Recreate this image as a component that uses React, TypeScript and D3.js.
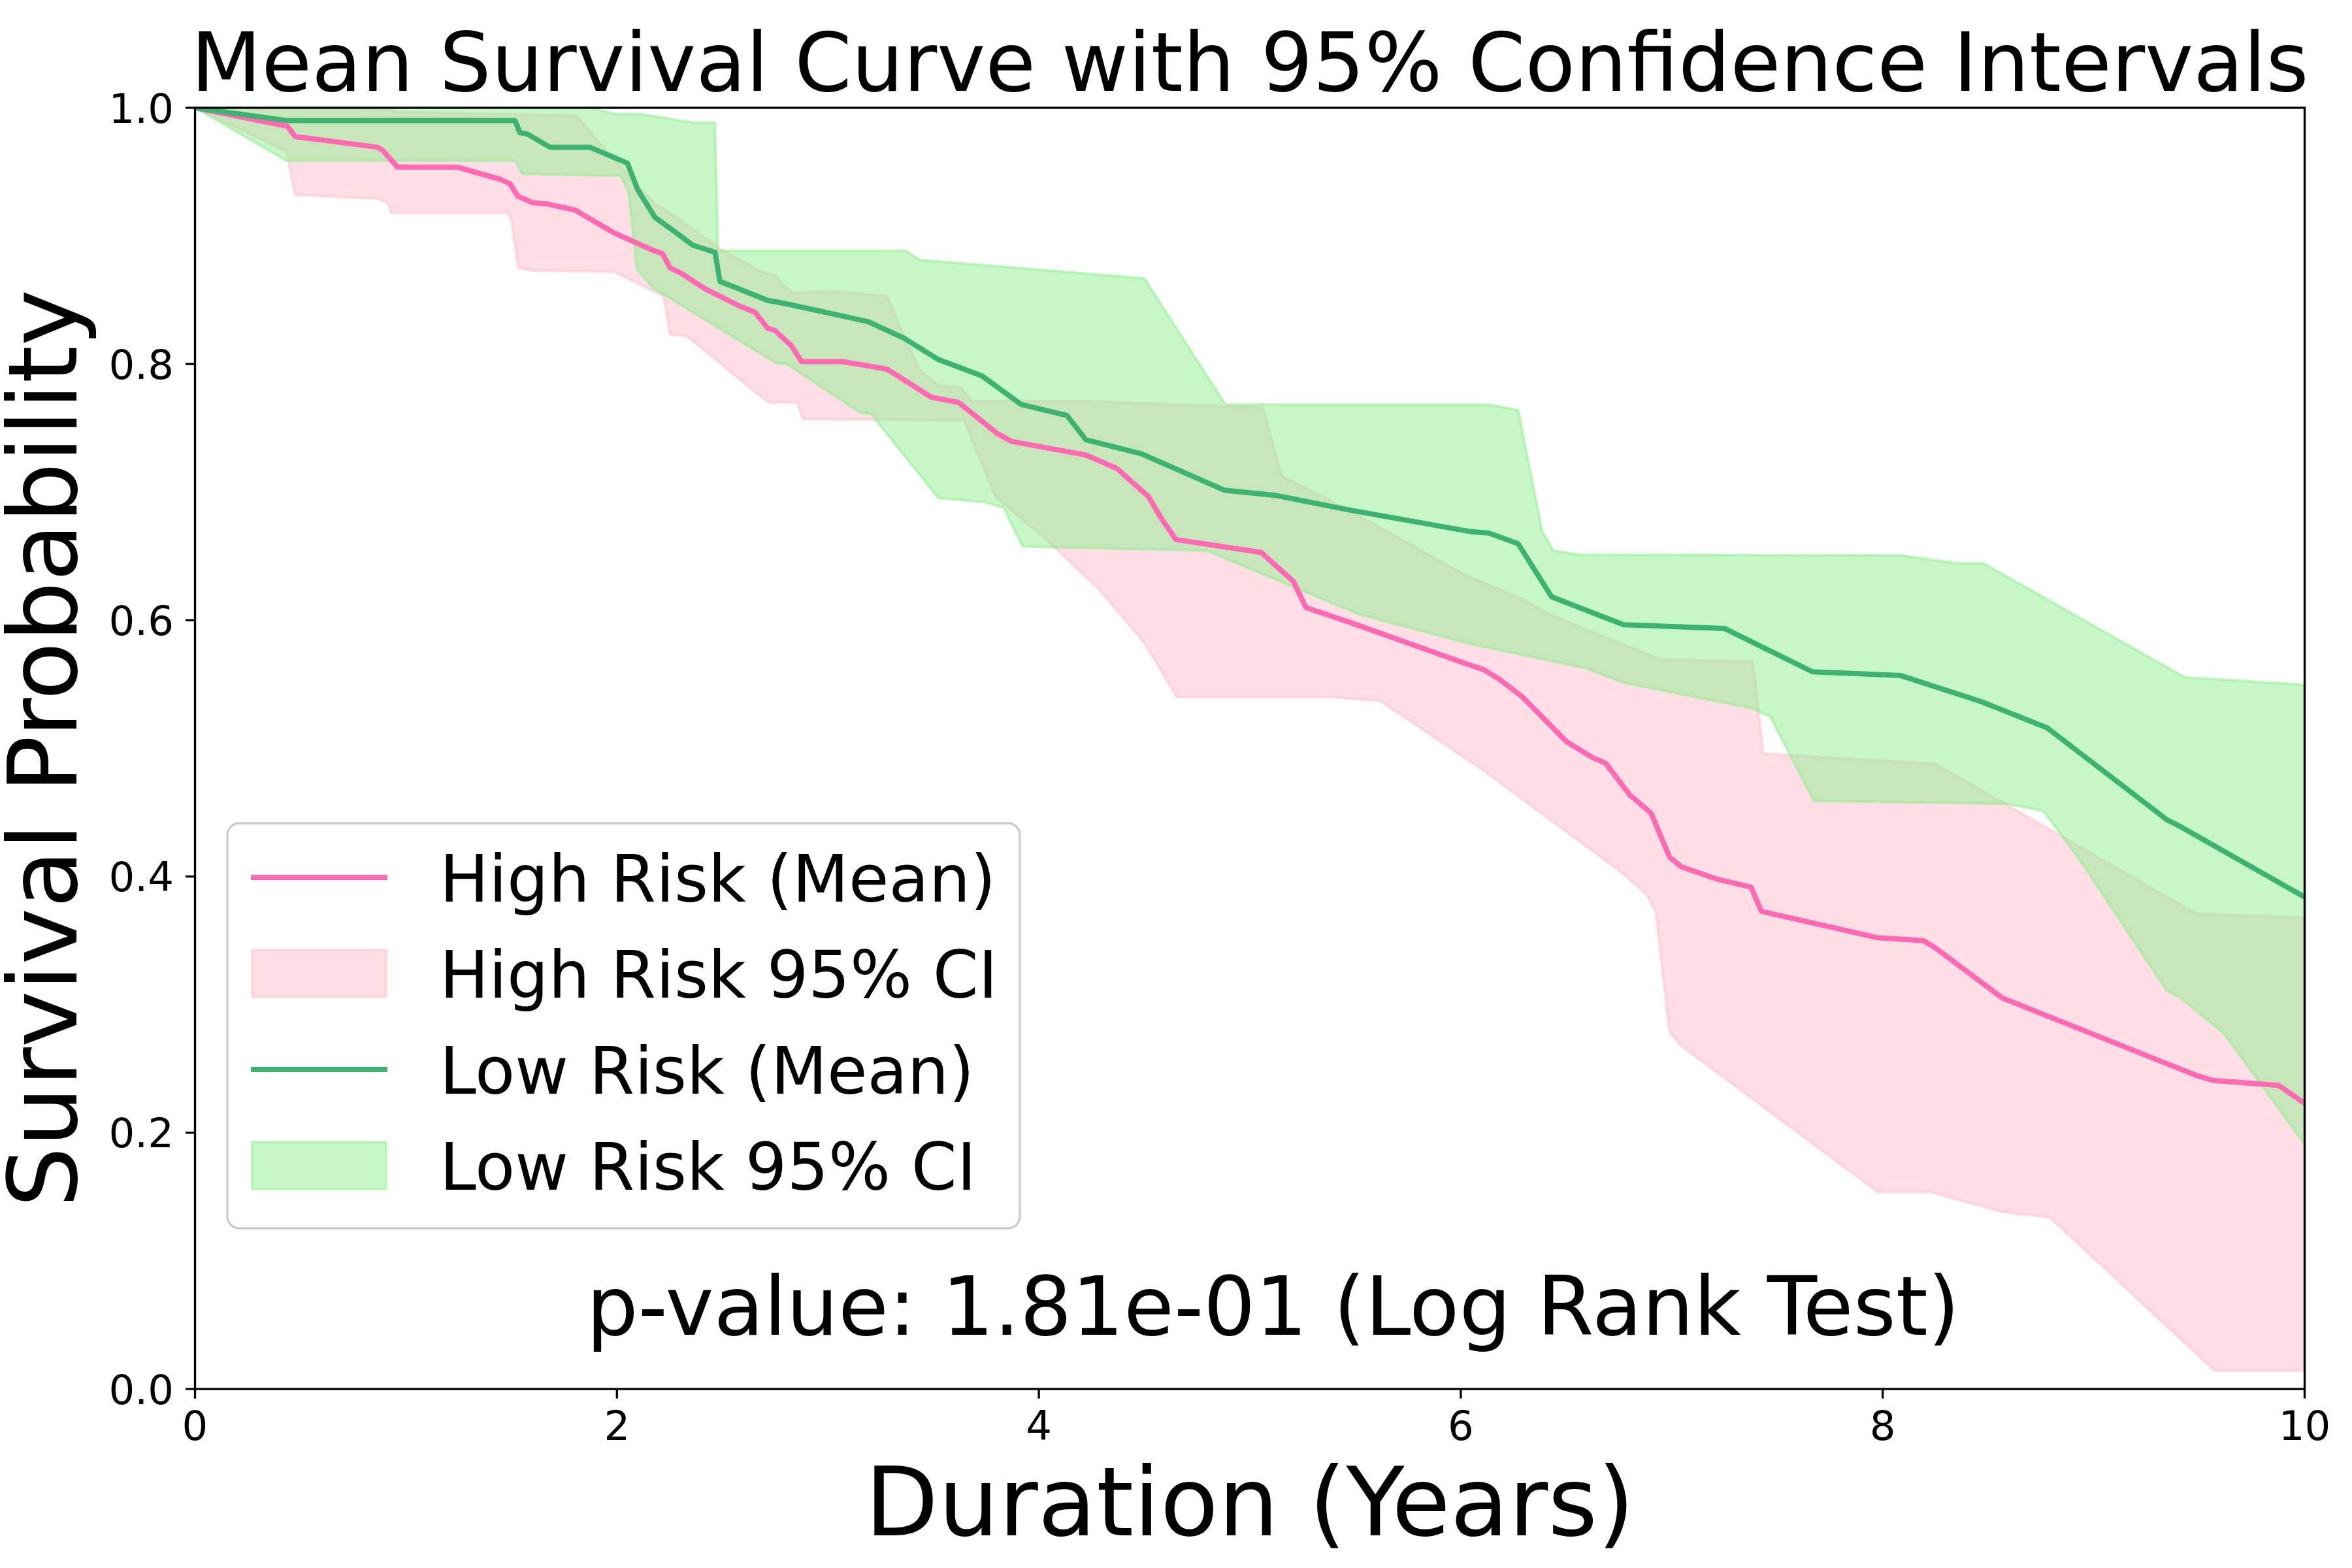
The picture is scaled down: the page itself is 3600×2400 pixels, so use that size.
import * as d3 from 'd3';

// Curves: [years, survival probability]
const highMean: [number, number][] = [
  [0, 1.0], [0.438, 0.9856], [0.474, 0.9776], [0.865, 0.9692], [0.889, 0.9669], [0.96, 0.9537],
  [1.244, 0.9537], [1.446, 0.9442], [1.493, 0.9408], [1.529, 0.9312], [1.6, 0.9259], [1.659, 0.9252],
  [1.801, 0.9202], [1.991, 0.902], [2.169, 0.8889], [2.216, 0.8861], [2.251, 0.8752], [2.311, 0.8702],
  [2.417, 0.8588], [2.583, 0.8451], [2.654, 0.8405], [2.714, 0.828], [2.749, 0.8262], [2.827, 0.8143],
  [2.875, 0.8019], [3.07, 0.8019], [3.281, 0.796], [3.491, 0.774], [3.62, 0.77], [3.805, 0.7455],
  [3.871, 0.7396], [4.222, 0.729], [4.37, 0.7185], [4.52, 0.6965], [4.581, 0.6794], [4.65, 0.663],
  [5.053, 0.653], [5.207, 0.6303], [5.266, 0.6099], [5.47, 0.5986], [6.015, 0.5667], [6.108, 0.5615],
  [6.181, 0.5542], [6.29, 0.5405], [6.503, 0.505], [6.627, 0.4927], [6.686, 0.4885], [6.802, 0.4635],
  [6.902, 0.4495], [6.99, 0.415], [7.048, 0.4074], [7.218, 0.3978], [7.376, 0.3917], [7.425, 0.3728],
  [7.977, 0.3522], [8.193, 0.35], [8.25, 0.3442], [8.567, 0.3052], [9.483, 0.245], [9.566, 0.2408],
  [9.876, 0.237], [10, 0.223],
];

const highUpper: [number, number][] = [
  [0, 1.0], [0.928, 0.999], [0.948, 0.997], [1.807, 0.994], [1.975, 0.962], [2.173, 0.926],
  [2.271, 0.916], [2.489, 0.89], [2.686, 0.872], [2.755, 0.869], [2.785, 0.862], [2.834, 0.856],
  [3.064, 0.8565], [3.281, 0.853], [3.361, 0.822], [3.434, 0.796], [3.524, 0.783], [3.627, 0.7824],
  [3.679, 0.7713], [4.206, 0.7713], [5.06, 0.766], [5.155, 0.712], [5.27, 0.703], [5.514, 0.682],
  [6.002, 0.637], [6.285, 0.617], [6.439, 0.6035], [6.593, 0.593], [6.945, 0.5695], [7.382, 0.5677],
  [7.391, 0.56], [7.434, 0.496], [8.249, 0.488], [9.487, 0.371], [10, 0.368],
];

const highLower: [number, number][] = [
  [0, 1.0], [0.434, 0.966], [0.474, 0.932], [0.869, 0.929], [0.918, 0.925], [0.928, 0.918],
  [1.481, 0.918], [1.501, 0.912], [1.531, 0.875], [1.6, 0.873], [1.985, 0.872], [2.222, 0.853],
  [2.251, 0.823], [2.33, 0.822], [2.686, 0.774], [2.725, 0.77], [2.854, 0.77], [2.883, 0.757],
  [3.645, 0.756], [3.794, 0.6965], [4.051, 0.6606], [4.282, 0.6246], [4.5, 0.5824], [4.654, 0.5401],
  [5.373, 0.5401], [5.617, 0.5371], [6.105, 0.483], [6.772, 0.402], [6.88, 0.386], [6.924, 0.373],
  [6.989, 0.279], [7.043, 0.268], [7.977, 0.1537], [8.227, 0.1537], [8.564, 0.1383], [8.792, 0.134],
  [9.574, 0.0141], [10, 0.0141],
];

const lowMean: [number, number][] = [
  [0, 1.0], [0.438, 0.99], [1.517, 0.99], [1.54, 0.9806], [1.576, 0.9794], [1.683, 0.9692],
  [1.872, 0.9692], [2.05, 0.9567], [2.098, 0.9362], [2.18, 0.9145], [2.275, 0.9032], [2.358, 0.8929],
  [2.465, 0.8872], [2.488, 0.8645], [2.56, 0.8599], [2.714, 0.8497], [2.792, 0.8474], [3.191, 0.8331],
  [3.358, 0.8204], [3.524, 0.8035], [3.73, 0.7908], [3.917, 0.7684], [4.133, 0.7599], [4.223, 0.7409],
  [4.487, 0.7299], [4.878, 0.7016], [5.129, 0.6973], [5.476, 0.6859], [6.054, 0.669], [6.131, 0.6682],
  [6.272, 0.6597], [6.431, 0.6183], [6.772, 0.5965], [7.25, 0.5936], [7.667, 0.5598], [8.086, 0.5568],
  [8.466, 0.5366], [8.781, 0.5159], [9.346, 0.4444], [9.4, 0.44], [10, 0.384],
];

const lowUpper: [number, number][] = [
  [0, 1.0], [1.876, 1.0], [1.995, 0.9952], [2.113, 0.9952], [2.36, 0.9885], [2.465, 0.9885],
  [2.479, 0.8884], [3.37, 0.8884], [3.434, 0.8813], [4.5, 0.8669], [4.885, 0.7684], [6.131, 0.7684],
  [6.272, 0.7641], [6.387, 0.669], [6.439, 0.6543], [6.567, 0.6512], [8.086, 0.6507], [8.347, 0.6446],
  [8.477, 0.6446], [9.433, 0.5554], [10, 0.5497],
];

const lowLower: [number, number][] = [
  [0, 1.0], [0.435, 0.9586], [1.521, 0.9586], [1.55, 0.9484], [2.015, 0.9469], [2.054, 0.9352],
  [2.094, 0.8738], [2.173, 0.8591], [2.755, 0.8006], [2.805, 0.8], [3.152, 0.7621], [3.203, 0.7612],
  [3.524, 0.6953], [3.743, 0.6923], [3.832, 0.6881], [3.922, 0.6576], [4.796, 0.6543], [5.514, 0.6048],
  [6.054, 0.5811], [6.593, 0.5625], [6.772, 0.5512], [7.38, 0.5313], [7.467, 0.5247], [7.673, 0.4589],
  [8.586, 0.4567], [8.76, 0.4514], [8.944, 0.4106], [9.346, 0.3109], [9.411, 0.3052], [9.617, 0.2775],
  [10, 0.191],
];

const xTicks = [0, 2, 4, 6, 8, 10];
const yTicks = [0, 0.2, 0.4, 0.6, 0.8, 1.0];
const legendLabels = ['High Risk (Mean)', 'High Risk 95% CI', 'Low Risk (Mean)', 'Low Risk 95% CI'];

const PINK_LINE = '#ff69b4';
const PINK_FILL = '#ffc0cb';
const GREEN_LINE = '#3cb371';
const GREEN_FILL = '#90ee90';
const FONT = '"DejaVu Sans", Verdana, sans-serif';

export default function App() {
  const width = 3600;
  const height = 2400;
  const left = 298.5;
  const right = 3527.5;
  const top = 165;
  const bottom = 2126;

  const x = d3.scaleLinear().domain([0, 10]).range([left, right]);
  const y = d3.scaleLinear().domain([0, 1]).range([bottom, top]);

  const line = d3
    .line<[number, number]>()
    .x((d) => x(d[0]))
    .y((d) => y(d[1]));

  const band = (upper: [number, number][], lower: [number, number][]) =>
    line([...upper, ...lower.slice().reverse()]) + 'Z';

  const spine = 3.3;
  const tickLen = 14.6;
  const tickFont = 62.5;

  // legend geometry
  const lg = { x: 348, y: 1260, w: 1213, h: 620 };
  const rows = [1343, 1490, 1637, 1784];
  const handleX0 = 384;
  const handleX1 = 593;
  const textX = 673;
  const legendFont = 100;

  return (
    <svg
      width={width}
      height={height}
      style={{ position: 'absolute', left: 0, top: 0, background: '#fff' }}
      fontFamily={FONT}
    >
      <rect x={0} y={0} width={width} height={height} fill="#fff" />
      <defs>
        <clipPath id="plot-clip">
          <rect x={left} y={top} width={right - left} height={bottom - top} />
        </clipPath>
      </defs>

      {/* Confidence bands, then mean curves on top */}
      <g clipPath="url(#plot-clip)">
        <path
          d={band(highUpper, highLower)}
          fill={PINK_FILL}
          fillOpacity={0.5}
          stroke={PINK_FILL}
          strokeOpacity={0.5}
          strokeWidth={4}
          strokeLinejoin="round"
        />
        <path
          d={band(lowUpper, lowLower)}
          fill={GREEN_FILL}
          fillOpacity={0.5}
          stroke={GREEN_FILL}
          strokeOpacity={0.5}
          strokeWidth={4}
          strokeLinejoin="round"
        />
        <path d={line(highMean) ?? ''} fill="none" stroke={PINK_LINE} strokeWidth={8} strokeLinejoin="round" />
        <path d={line(lowMean) ?? ''} fill="none" stroke={GREEN_LINE} strokeWidth={8} strokeLinejoin="round" />
      </g>

      {/* Spines */}
      <rect
        x={left}
        y={top}
        width={right - left}
        height={bottom - top}
        fill="none"
        stroke="#000"
        strokeWidth={spine}
      />

      {/* X ticks */}
      {xTicks.map((t) => (
        <g key={'x' + t}>
          <line x1={x(t)} x2={x(t)} y1={bottom} y2={bottom + tickLen} stroke="#000" strokeWidth={spine} />
          <text x={x(t)} y={2204} fontSize={tickFont} textAnchor="middle" fill="#000">
            {t}
          </text>
        </g>
      ))}

      {/* Y ticks */}
      {yTicks.map((t) => (
        <g key={'y' + t}>
          <line x1={left - tickLen} x2={left} y1={y(t)} y2={y(t)} stroke="#000" strokeWidth={spine} />
          <text x={266} y={y(t) + 22.5} fontSize={tickFont} textAnchor="end" fill="#000">
            {t.toFixed(1)}
          </text>
        </g>
      ))}

      {/* Title and axis labels */}
      <text x={(left + right) / 2} y={139} fontSize={125} textAnchor="middle" fill="#000">
        Mean Survival Curve with 95% Confidence Intervals
      </text>
      <text x={(left + right) / 2} y={2350} fontSize={145.8} textAnchor="middle" fill="#000">
        Duration (Years)
      </text>
      <text
        transform={`translate(117,${(top + bottom) / 2}) rotate(-90)`}
        fontSize={145.8}
        textAnchor="middle"
        fill="#000"
      >
        Survival Probability
      </text>

      {/* p-value annotation */}
      <text x={left + (right - left) * 0.511} y={2043} fontSize={125} textAnchor="middle" fill="#000">
        p-value: 1.81e-01 (Log Rank Test)
      </text>

      {/* Legend */}
      <g>
        <rect
          x={lg.x}
          y={lg.y}
          width={lg.w}
          height={lg.h}
          rx={18}
          ry={18}
          fill="#fff"
          fillOpacity={0.8}
          stroke="#cccccc"
          strokeWidth={3.3}
        />
        {legendLabels.map((label, i) => {
          const cy = rows[i];
          const isLine = i % 2 === 0;
          const high = i < 2;
          return (
            <g key={label}>
              {isLine ? (
                <line
                  x1={handleX0}
                  x2={handleX1}
                  y1={cy}
                  y2={cy}
                  stroke={high ? PINK_LINE : GREEN_LINE}
                  strokeWidth={8}
                />
              ) : (
                <rect
                  x={handleX0 + 2}
                  y={cy - 36}
                  width={handleX1 - handleX0 - 4}
                  height={72}
                  fill={high ? PINK_FILL : GREEN_FILL}
                  fillOpacity={0.5}
                  stroke={high ? PINK_FILL : GREEN_FILL}
                  strokeOpacity={0.5}
                  strokeWidth={4}
                />
              )}
              <text x={textX} y={cy + 36.5} fontSize={legendFont} fill="#000">
                {label}
              </text>
            </g>
          );
        })}
      </g>
    </svg>
  );
}
